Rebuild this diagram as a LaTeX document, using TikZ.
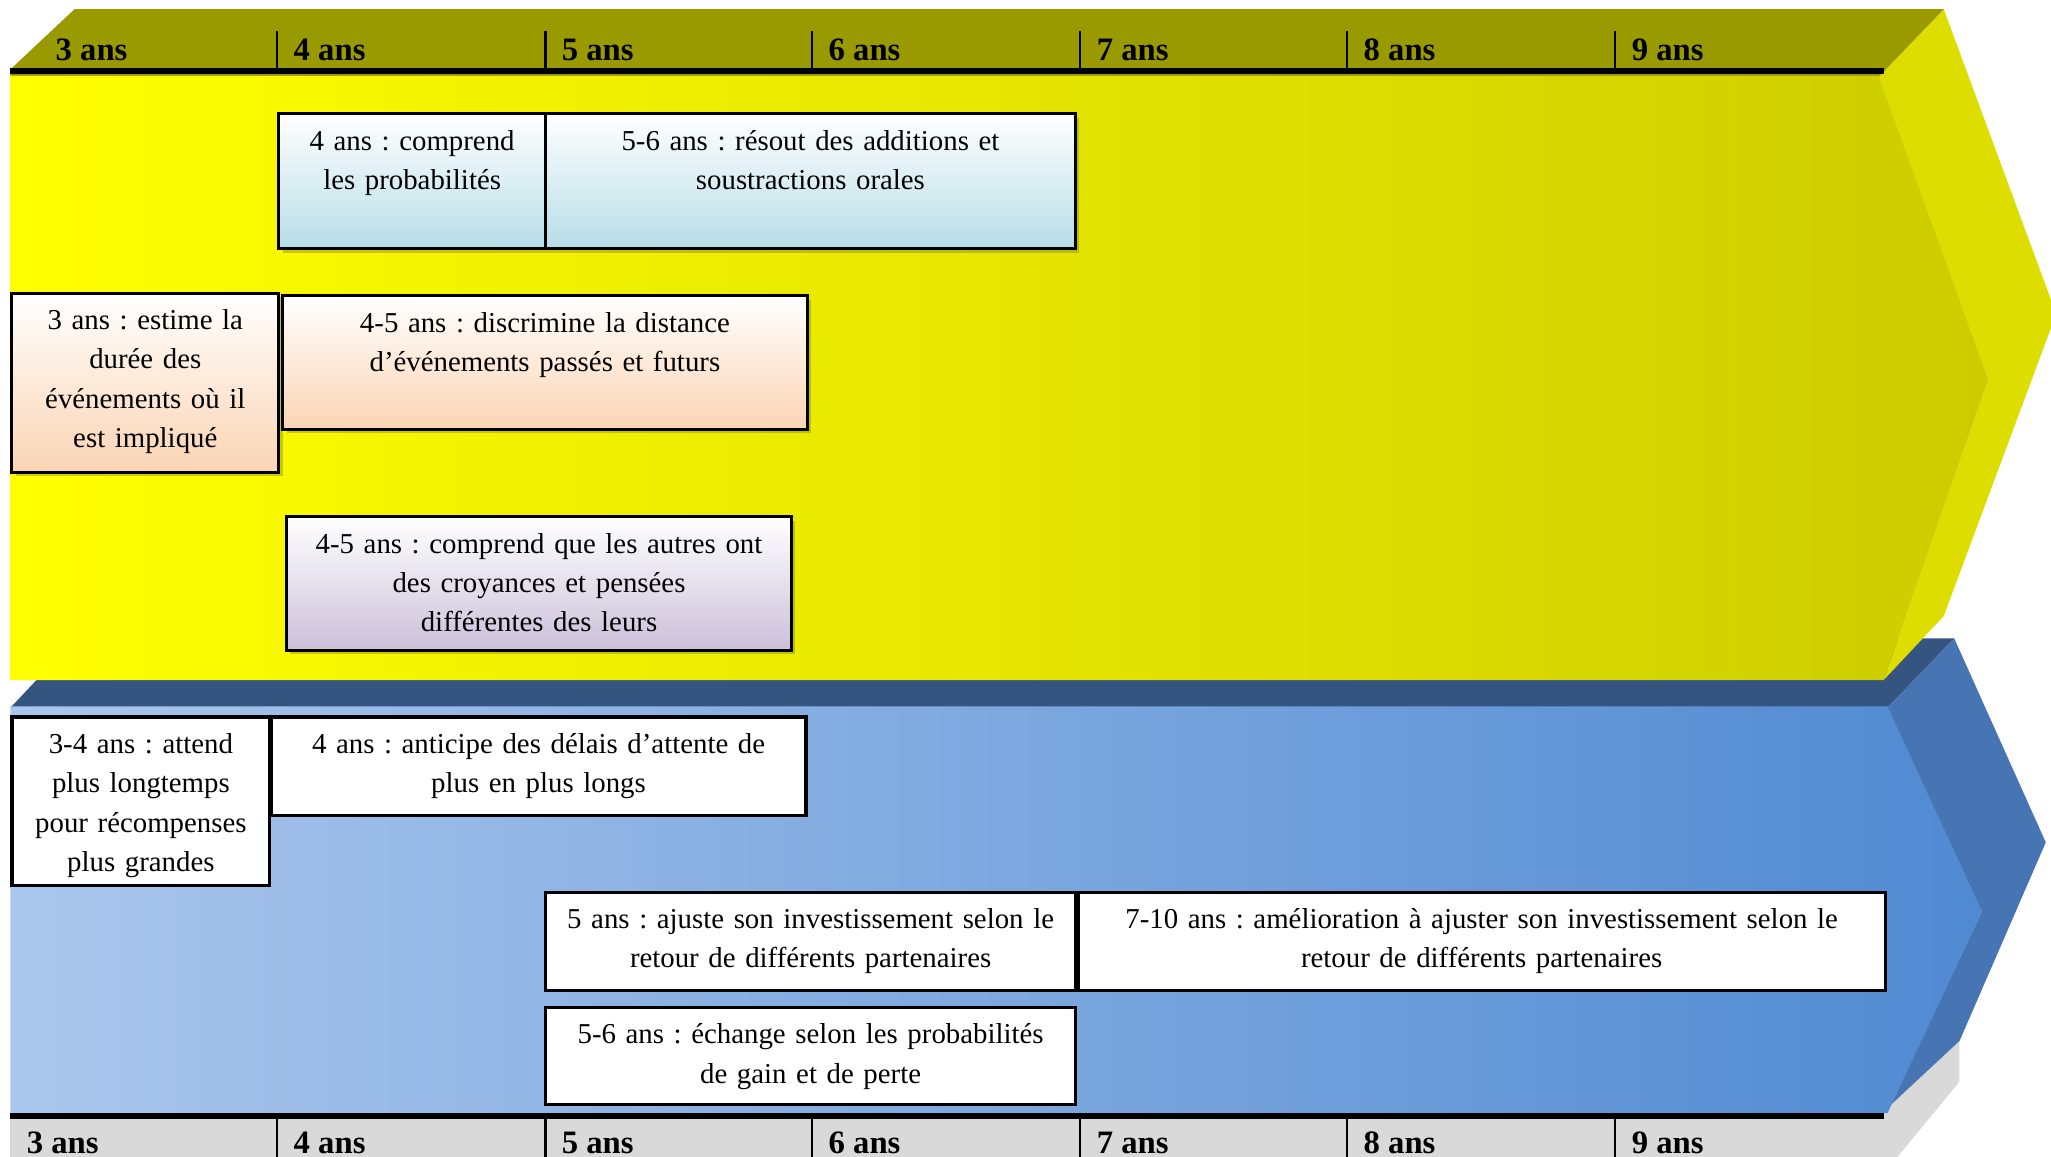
\documentclass[tikz,border=0pt]{standalone}
\usepackage{fontspec}
\setmainfont{Liberation Serif}
\usetikzlibrary{shadows}
\frenchspacing

\definecolor{olivetop}{RGB}{153,153,0}
\definecolor{yellowside}{RGB}{221,221,0}
\definecolor{yellowend}{RGB}{204,204,0}
\definecolor{bluetop}{RGB}{51,85,128}
\definecolor{blueside}{RGB}{71,117,180}
\definecolor{bluestart}{RGB}{170,198,236}
\definecolor{blueend}{RGB}{80,138,210}
\definecolor{greyband}{RGB}{217,217,217}
\definecolor{probablue}{RGB}{183,221,232}
\definecolor{peach}{RGB}{251,212,180}
\definecolor{lavender}{RGB}{204,192,218}

\newcommand{\dpx}{0.3721pt}

\begin{document}
\begin{tikzpicture}[x=0.01308cm,y=-0.01308cm,line join=miter,
		agelbl/.style={anchor=base west,inner sep=0pt,font=\fontsize{9.3}{10}\selectfont\bfseries},
		tick/.style={line width=0.6pt},
		axis/.style={line width=1.7pt},
		evbox/.style={draw,line width=0.8pt,inner sep=0pt,anchor=north west},
		evtext/.style={anchor=north,inner sep=0pt,align=center,font=\fontsize{8.2}{11.2}\selectfont,execute at begin node=\strut},
		shadowed/.style={drop shadow={shadow xshift=1.1pt,shadow yshift=-1.1pt,fill=olivetop!60!black,opacity=0.3}},
		probabox/.style={evbox,shadowed,top color=white,bottom color=probablue},
		peachbox/.style={evbox,shadowed,top color=white,bottom color=peach},
		lavbox/.style={evbox,shadowed,top color=white,bottom color=lavender},
		whitebox/.style={evbox,fill=white,line width=0.9pt}]
	\useasboundingbox (0,0) rectangle (1568,884);
	
	% lower arrow
	\fill[bluetop] (8,541) -- (58,488) -- (1494,488) -- (1443,541) -- cycle;
	\fill[blueside] (1443,541) -- (1494,488) -- (1564,644) -- (1498,796) -- (1443,850) -- (1515,697) -- cycle;
	\fill[greyband] (1440,850) -- (1498,796) -- (1498,827) -- (1446,890) -- (1440,890) -- cycle;
	\shade[left color=bluestart,right color=blueend] (8,540) -- (1443,540) -- (1515,697) -- (1443,851) -- (8,851) -- cycle;
	\fill[greyband] (8,853) rectangle (1440,890);
	\draw[axis] (8,853.5) -- (1440,853.5);
	\foreach \x in {212,417,621,826,1030,1235}
		\draw[tick] (\x,855) -- (\x,890);
	\foreach \x/\a in {20/3,224/4,429/5,633/6,838/7,1042/8,1247/9}
		\node[agelbl] (bot\a) at (\x,882) {\a\ ans};
	
	% upper arrow
	\fill[yellowside] (1436,59) -- (1486,7) -- (1572,240) -- (1486,471) -- (1440,520) -- (1520,290) -- cycle;
	\fill[olivetop] (8,59) -- (8,53) -- (57,7) -- (1486,7) -- (1436,59) -- cycle;
	\shade[left color=yellow,right color=yellowend] (8,58) -- (1436,58) -- (1520,290) -- (1440,520) -- (8,520) -- cycle;
	\draw[axis] (8,54.5) -- (1440,54.5);
	\foreach \x in {212,417,621,826,1030,1235}
		\draw[tick] (\x,24) -- (\x,53);
	\foreach \x/\a in {42/3,224/4,429/5,633/6,838/7,1042/8,1247/9}
		\node[agelbl] (top\a) at (\x,46.5) {\a\ ans};
	
	% events, upper arrow
	\node[probabox,minimum width=204*\dpx,minimum height=103*\dpx] (proba) at (212,86) {};
	\node[evtext,text width=196*\dpx] (proba-t) at ([yshift=-2.7pt]proba.north) {4 ans : comprend\\les probabilités};
	\node[probabox,minimum width=405*\dpx,minimum height=103*\dpx] (calcul) at (416,86) {};
	\node[evtext,text width=396*\dpx] (calcul-t) at ([yshift=-2.7pt]calcul.north) {5-6 ans : résout des additions et\\soustractions orales};
	\node[peachbox,minimum width=204*\dpx,minimum height=137*\dpx] (duree) at (8,223) {};
	\node[evtext,text width=196*\dpx] (duree-t) at ([yshift=-2.7pt]duree.north) {3 ans : estime la\\durée des\\événements où il\\est impliqué};
	\node[peachbox,minimum width=401*\dpx,minimum height=102*\dpx] (distance) at (215,225) {};
	\node[evtext,text width=392*\dpx] (distance-t) at ([yshift=-2.7pt]distance.north) {4-5 ans : discrimine la distance\\d’événements passés et futurs};
	\node[lavbox,minimum width=386*\dpx,minimum height=102*\dpx] (croyance) at (218,394) {};
	\node[evtext,text width=378*\dpx] (croyance-t) at ([yshift=-2.7pt]croyance.north) {4-5 ans : comprend que les autres ont\\des croyances et pensées\\différentes des leurs};
	
	% events, lower arrow
	\node[whitebox,minimum width=197*\dpx,minimum height=129*\dpx] (attente) at (8,547) {};
	\node[evtext,text width=190*\dpx] (attente-t) at ([yshift=-2.7pt]attente.north) {3-4 ans : attend\\plus longtemps\\pour récompenses\\plus grandes};
	\node[whitebox,minimum width=409*\dpx,minimum height=75*\dpx] (delai) at (206,547) {};
	\node[evtext,text width=400*\dpx] (delai-t) at ([yshift=-2.7pt]delai.north) {4 ans : anticipe des délais d’attente de\\plus en plus longs};
	\node[whitebox,minimum width=405*\dpx,minimum height=75*\dpx] (invest) at (416,681) {};
	\node[evtext,text width=398*\dpx] (invest-t) at ([yshift=-2.7pt]invest.north) {5 ans : ajuste son investissement selon le\\retour de différents partenaires};
	\node[whitebox,minimum width=617*\dpx,minimum height=75*\dpx] (investb) at (823,681) {};
	\node[evtext,text width=608*\dpx] (investb-t) at ([yshift=-2.7pt]investb.north) {7-10 ans : amélioration à ajuster son investissement selon le\\retour de différents partenaires};
	\node[whitebox,minimum width=405*\dpx,minimum height=74*\dpx] (echange) at (416,769) {};
	\node[evtext,text width=398*\dpx] (echange-t) at ([yshift=-2.7pt]echange.north) {5-6 ans : échange selon les probabilités\\de gain et de perte};
\end{tikzpicture}
\end{document}
